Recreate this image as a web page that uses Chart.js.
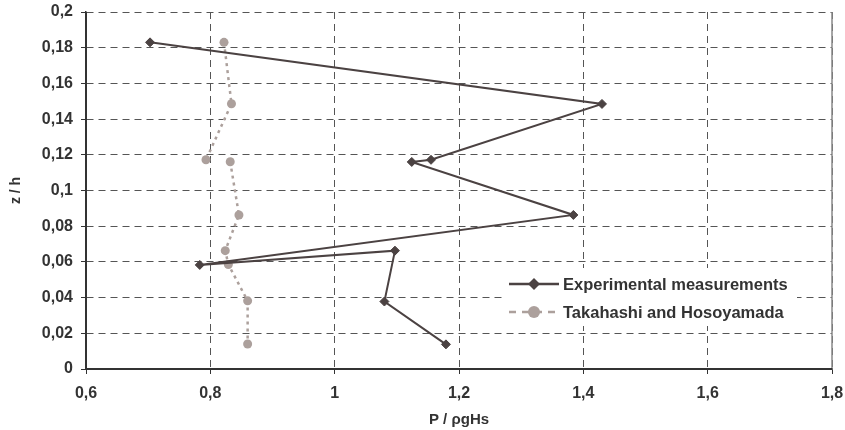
<!DOCTYPE html>
<html>
<head>
<meta charset="utf-8">
<script src="https://cdn.jsdelivr.net/npm/chart.js@4"></script>
<style>
  html, body { margin: 0; padding: 0; background: #fff; }
  #wrap { width: 845px; height: 430px; position: relative; }
</style>
</head>
<body>
<div id="wrap"><canvas id="chart"></canvas></div>
<script>
// values
const expLabel = 'Experimental measurements';
const expX = [0.703, 1.430, 1.155, 1.124, 1.384, 0.783, 1.097, 1.080, 1.179];
const expY = [0.183, 0.1485, 0.1172, 0.1160, 0.0863, 0.0583, 0.0663, 0.0378, 0.0138];

const takLabel = 'Takahashi and Hosoyamada';
const takX = [0.822, 0.834, 0.793, 0.832, 0.846, 0.824, 0.829, 0.860, 0.860];
const takY = [0.183, 0.1486, 0.1172, 0.1161, 0.0863, 0.0663, 0.0585, 0.0382, 0.0140];
// the dotted line is not drawn between these two points in the original
const takGapAfter = 2;

const xMin = 0.6, xMax = 1.8, xStep = 0.2;
const yMin = 0, yMax = 0.2, yStep = 0.02;

const EXP_COLOR = '#4b4242';
const TAK_COLOR = '#aca09c';
const TEXT_COLOR = '#333';
const FONT = '"Liberation Sans", Arial, sans-serif';

function pts(xs, ys) {
  return xs.map((x, i) => ({ x: x, y: ys[i] }));
}

function comma(v, digits) {
  const f = Math.pow(10, digits);
  return String(Math.round(v * f) / f).replace('.', ',');
}

// solid axes, frame and the legend box inside the plot area
const frameAndLegend = {
  id: 'frameAndLegend',
  afterDatasetsDraw(chart) {
    const { ctx, chartArea: a } = chart;
    ctx.save();
    ctx.setLineDash([]);
    ctx.strokeStyle = '#888';
    ctx.lineWidth = 1.5;
    ctx.beginPath();
    ctx.moveTo(a.right, a.top);
    ctx.lineTo(a.right, a.bottom);
    ctx.stroke();

    ctx.strokeStyle = '#333';
    ctx.lineWidth = 2;
    ctx.beginPath();
    ctx.moveTo(a.left, a.top);
    ctx.lineTo(a.left, a.bottom);
    ctx.lineTo(a.right, a.bottom);
    ctx.stroke();

    // legend
    const lx = a.right - 327, ly = a.bottom - 101;
    ctx.fillStyle = '#fff';
    ctx.fillRect(lx, ly, 292, 58);

    const rows = [
      { label: expLabel, color: EXP_COLOR, y: ly + 16, dash: [], diamond: true },
      { label: takLabel, color: TAK_COLOR, y: ly + 44, dash: [7, 6], diamond: false }
    ];
    rows.forEach(r => {
      ctx.strokeStyle = r.color;
      ctx.lineWidth = 2.5;
      ctx.setLineDash(r.dash);
      ctx.beginPath();
      ctx.moveTo(lx + 4, r.y);
      ctx.lineTo(lx + 54, r.y);
      ctx.stroke();
      ctx.setLineDash([]);
      ctx.fillStyle = r.color;
      ctx.beginPath();
      const cx = lx + 29;
      if (r.diamond) {
        ctx.moveTo(cx - 6, r.y);
        ctx.lineTo(cx, r.y - 6);
        ctx.lineTo(cx + 6, r.y);
        ctx.lineTo(cx, r.y + 6);
        ctx.closePath();
      } else {
        ctx.arc(cx, r.y, 6, 0, Math.PI * 2);
      }
      ctx.fill();
      ctx.fillStyle = TEXT_COLOR;
      ctx.font = 'bold 16.5px ' + FONT;
      ctx.textBaseline = 'middle';
      ctx.textAlign = 'left';
      ctx.fillText(r.label, lx + 58, r.y + 1);
    });
    ctx.restore();
  }
};

new Chart(document.getElementById('chart'), {
  type: 'scatter',
  data: {
    datasets: [
      {
        label: expLabel,
        data: pts(expX, expY),
        showLine: true,
        borderColor: EXP_COLOR,
        backgroundColor: EXP_COLOR,
        borderWidth: 2,
        pointStyle: 'rectRot',
        pointRadius: 4.5,
        pointBorderWidth: 1,
        tension: 0
      },
      {
        label: takLabel,
        data: pts(takX, takY),
        showLine: true,
        borderColor: TAK_COLOR,
        backgroundColor: TAK_COLOR,
        borderWidth: 2.5,
        borderDash: [3, 4],
        segment: {
          borderColor: c => c.p0DataIndex === takGapAfter ? 'rgba(0,0,0,0)' : undefined
        },
        pointStyle: 'circle',
        pointRadius: 4.5,
        pointBorderWidth: 0,
        tension: 0
      }
    ]
  },
  options: {
    responsive: true,
    maintainAspectRatio: false,
    animation: false,
    layout: { padding: { left: 0, right: 13, top: 12, bottom: 0 } },
    plugins: {
      legend: { display: false },
      tooltip: { enabled: false }
    },
    scales: {
      x: {
        type: 'linear',
        min: xMin, max: xMax,
        ticks: {
          stepSize: xStep,
          color: TEXT_COLOR,
          font: { family: FONT, size: 16, weight: 'bold' },
          padding: 10,
          callback: v => comma(v, 1)
        },
        grid: { color: '#555', lineWidth: 1, tickLength: 5, tickColor: '#333' },
        border: { display: true, color: '#333', width: 1.5, dash: [7, 5] },
        title: {
          display: true,
          text: 'P / ρgHs',
          color: TEXT_COLOR,
          font: { family: FONT, size: 15, weight: 'bold' },
          padding: { top: 6, bottom: 1 }
        },
        afterFit: s => { s.height = 61; s.paddingLeft = 0; s.paddingRight = 0; }
      },
      y: {
        type: 'linear',
        min: yMin, max: yMax,
        ticks: {
          stepSize: yStep,
          color: TEXT_COLOR,
          font: { family: FONT, size: 16, weight: 'bold' },
          padding: 8,
          callback: v => comma(v, 2)
        },
        grid: { color: '#555', lineWidth: 1, tickLength: 5, tickColor: '#333' },
        border: { display: true, color: '#333', width: 1.5, dash: [7, 5] },
        title: {
          display: true,
          text: 'z / h',
          color: TEXT_COLOR,
          font: { family: FONT, size: 14, weight: 'bold' },
          padding: { top: 8, bottom: 4 }
        },
        afterFit: s => { s.width = 86; s.paddingTop = 0; s.paddingBottom = 0; }
      }
    }
  },
  plugins: [frameAndLegend]
});
</script>
</body>
</html>
